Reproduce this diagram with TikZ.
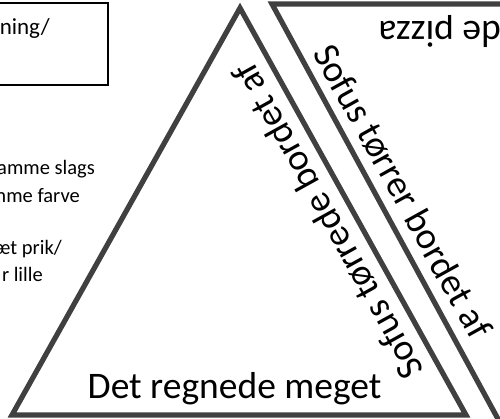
\documentclass[tikz,border=0pt]{standalone}
\usepackage{fontspec}
\setmainfont{Carlito}
\usepackage{tikz}
\usepackage{xcolor}
\definecolor{edgegray}{RGB}{64,64,64}

\begin{document}
\begin{tikzpicture}[x=1pt,y=-1pt,
  edgeline/.style={edgegray, line width=5.2pt, line join=miter},
  biglabel/.style={inner sep=0pt, font=\fontsize{37.5}{45}\selectfont},
  smalllabel/.style={inner sep=0pt, anchor=base east, font=\fontsize{20.5}{24}\selectfont}]
\useasboundingbox (0,0) rectangle (500,419);
\clip (0,0) rectangle (500,419);

% box and list on the left
\draw[black, line width=1.6pt] (-10,3) rectangle (108,85);
\node[smalllabel, font=\fontsize{23}{27}\selectfont] (boxtext) at (50,35) {ning/};

\node[smalllabel] (slags) at (95,175) {amme slags};
\node[smalllabel] (farve) at (80,203) {mme farve};
\node[smalllabel] (prik) at (62,255) {æt prik/};
\node[smalllabel] (lille) at (43,282) {r lille};

% the upright triangle
\coordinate (apex) at (240,8);
\coordinate (botleft) at (12,415);
\coordinate (botright) at (466,415);
\draw[edgeline] (apex) -- (botleft) -- (botright) -- cycle;

% the turned triangle
\coordinate (topleft) at (272,4);
\coordinate (topright) at (512,4);
\coordinate (lowend) at (504,430);
\draw[edgeline] (topright) -- (topleft) -- (lowend);

\node[biglabel, anchor=base] (regnede) at (234.5,398) {Det regnede meget};
\node[biglabel, anchor=base, rotate=119] (toerrede) at (338.5,215.3) {Sofus tørrede bordet af};
\node[biglabel, anchor=base, rotate=-61] (toerrer) at (391.9,197.3) {Sofus tørrer bordet af};
\node[biglabel, anchor=base west, rotate=180] (pizza) at (501,22) {de pizza};
\end{tikzpicture}
\end{document}
